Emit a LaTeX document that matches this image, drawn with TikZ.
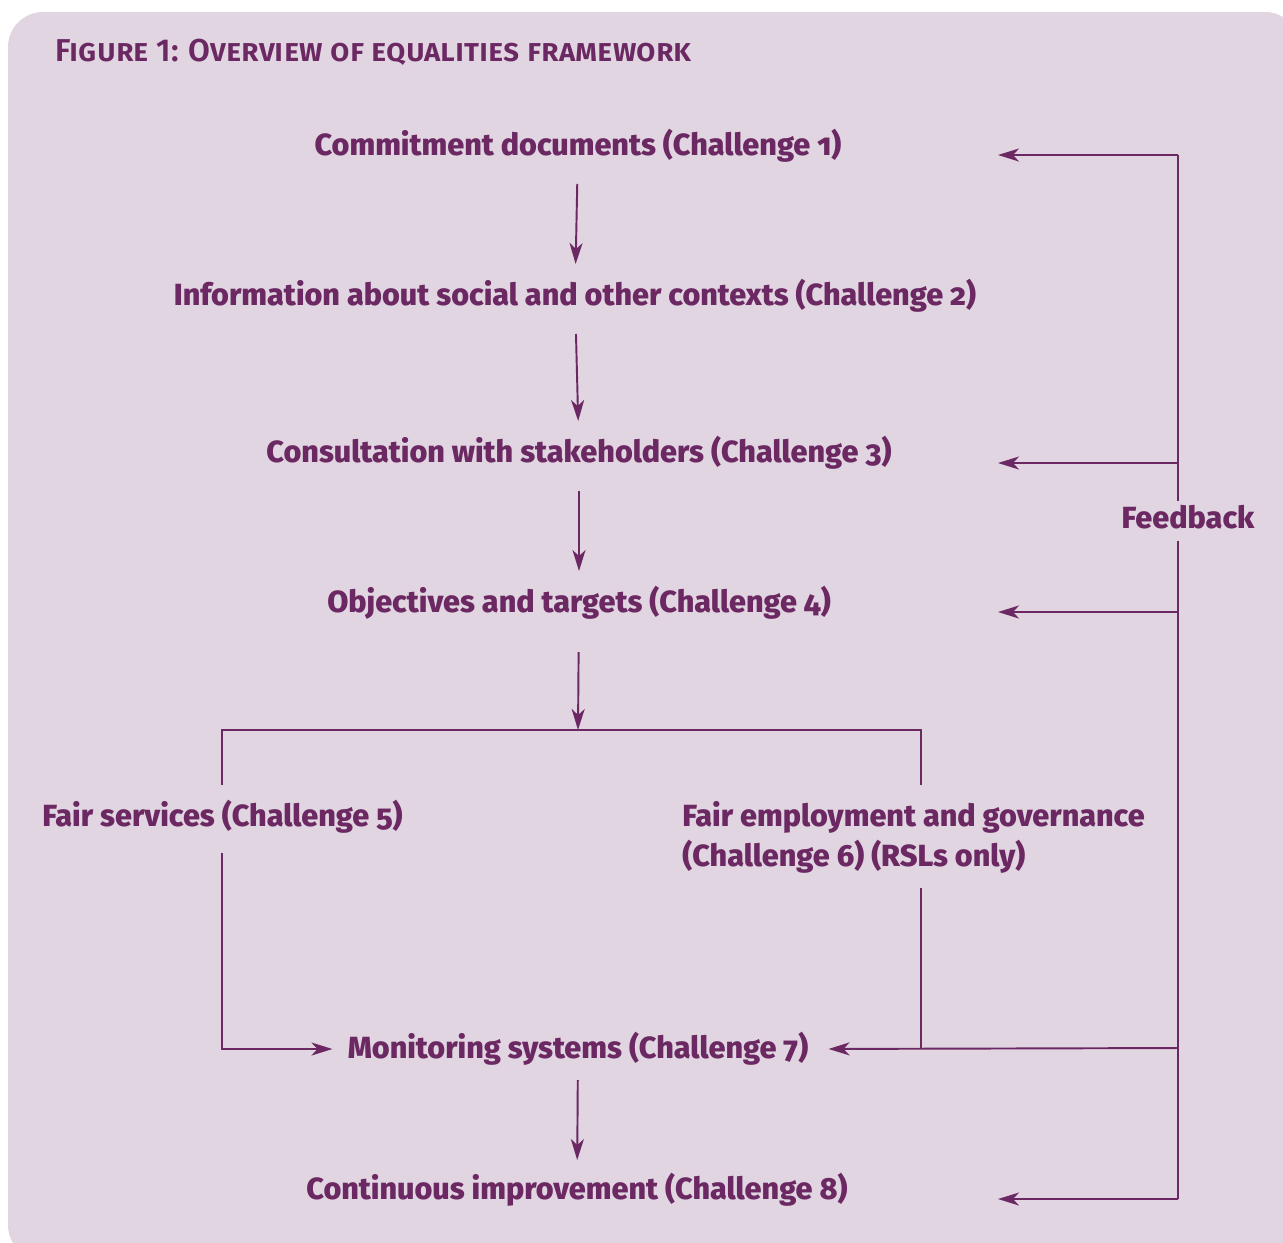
\documentclass[tikz,border=0pt]{standalone}
\usepackage{fontspec}
\setmainfont{Fira Sans}[Numbers=OldStyle, BoldFont={Fira Sans ExtraBold}]
\newfontfamily\titlefont{Fira Sans SemiBold}
\usetikzlibrary{arrows.meta}
\definecolor{eqpurple}{HTML}{6B2862}
\definecolor{eqback}{HTML}{E0D5E0}
\tikzset{
  figtitle/.style = {font=\titlefont\fontsize{18}{22}\selectfont\scshape\color{eqpurple}, inner sep=0pt},
  stage/.style    = {font=\fontsize{17.4}{22.7}\selectfont\bfseries\color{eqpurple}, inner sep=0pt, align=left},
  flow/.style     = {-{Stealth[length=0.42cm,width=0.26cm,inset=0.12cm]}, line width=1.1pt, eqpurple},
  link/.style     = {line width=1.1pt, eqpurple},
}

\begin{document}
\begin{tikzpicture}[x=0.02cm,y=-0.02cm]
\useasboundingbox (0,0) rectangle (1283,1242);
\fill[eqback, rounded corners=0.7cm] (8,12) rectangle (1300,1260);

% title
\node[figtitle, anchor=west] (title) at (55,52) {Figure 1: Overview of equalities framework};

% stages
\node[stage] (commit)  at (578,146)  {Commitment documents (Challenge 1)};
\node[stage] (info)    at (575,296)  {Information about social and other contexts (Challenge 2)};
\node[stage] (consult) at (579,453)  {Consultation with stakeholders (Challenge 3)};
\node[stage] (object)  at (579,603)  {Objectives and targets (Challenge 4)};
\node[stage, anchor=west] (services) at (42,817) {Fair services (Challenge 5)};
\node[stage, anchor=west] (employ)   at (682,837) {Fair employment and governance\\(Challenge 6) (RSLs only)};
\node[stage] (monitor) at (578,1049) {Monitoring systems (Challenge 7)};
\node[stage] (improve) at (577,1190) {Continuous improvement (Challenge 8)};
\node[stage] (feedback) at (1188,517) {Feedback};

% split and join points
\coordinate (split) at (578,730);
\coordinate (sL)  at (222,785);
\coordinate (sR)  at (921,785);
\coordinate (sLb) at (222,853);
\coordinate (sRb) at (921,888);

% feedback bus
\coordinate (fb1) at (1178,155);
\coordinate (fb3) at (1178,463);
\coordinate (fb4) at (1178,612);
\coordinate (fb7) at (1178,1048);
\coordinate (fb8) at (1178,1199);
\coordinate (tipx) at (998,0);

% main flow
\foreach \a/\b in {commit/info, info/consult, consult/object}
  \draw[flow, shorten <=0.76cm, shorten >=0.64cm] (\a.center) -- (\b.center);
\draw[flow, shorten <=0.98cm] (object.center) -- (split);
\draw[link] (sL) -- (sL |- split) -- (sR |- split) -- (sR);
\draw[flow, shorten >=0.3cm] (sLb) |- (monitor.west);
\draw[link] (sRb) -- (sRb |- fb7);
\draw[flow, shorten <=0.62cm, shorten >=0.6cm] (monitor.center) -- (improve.center);

% feedback
\draw[link] (fb1) -- ([yshift=0.08cm]fb1 |- feedback.north);
\draw[link] ([yshift=-0.24cm]fb1 |- feedback.south) -- (fb8);
\foreach \f in {fb1, fb3, fb4, fb8}
  \draw[flow] (\f) -- (\f -| tipx);
\draw[flow, shorten >=0.4cm] (fb7) -- (monitor.east);
\end{tikzpicture}
\end{document}
